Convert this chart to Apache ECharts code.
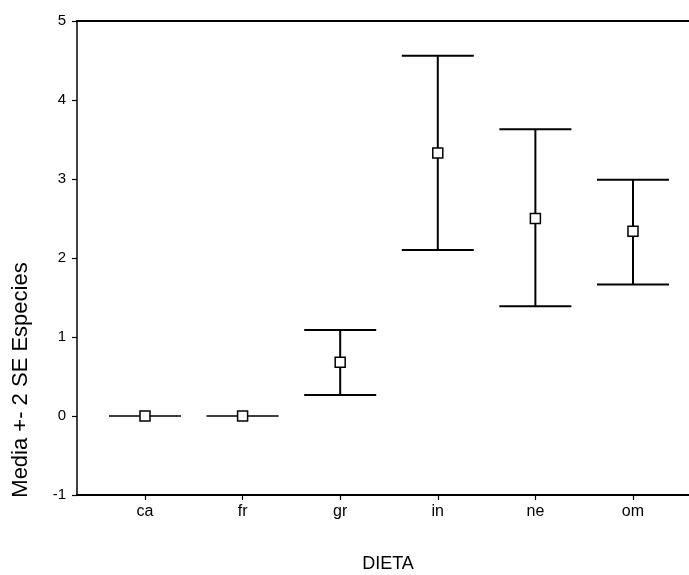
<!DOCTYPE html>
<html>
<head>
<meta charset="utf-8">
<script src="https://cdn.jsdelivr.net/npm/echarts@6/dist/echarts.min.js"></script>
<style>html,body{margin:0;padding:0;background:#fff;}#c{width:689px;height:575px;}</style>
</head>
<body>
<div id="c"></div>
<script>
var categories = ['ca', 'fr', 'gr', 'in', 'ne', 'om'];
var means = [0, 0, 0.68, 3.33, 2.5, 2.34];
var lower = [0, 0, 0.265, 2.10, 1.39, 1.665];
var upper = [0, 0, 1.09, 4.56, 3.63, 2.99];
var yTicks = [-1, 0, 1, 2, 3, 4, 5];

var positions = categories.map(function (c, i) { return i + 1; });
var barData = categories.map(function (c, i) { return [i + 1, lower[i], upper[i]]; });
var meanData = categories.map(function (c, i) { return [i + 1, means[i]]; });

var font = 'Liberation Sans, Arial, sans-serif';
var chart = echarts.init(document.getElementById('c'), null, {renderer: 'canvas'});
chart.setOption({
  animation: false,
  backgroundColor: '#fff',
  grid: {left: 77, right: 0, top: 21, bottom: 80, containLabel: false},
  xAxis: [{
    type: 'value', min: 0.3033, max: 6.574, position: 'bottom',
    splitLine: {show: false},
    axisLine: {show: true, onZero: false, lineStyle: {color: '#000', width: 2}},
    axisTick: {show: true, customValues: positions, length: 5, inside: false, lineStyle: {color: '#000', width: 1.2}},
    axisLabel: {show: true, customValues: positions, margin: 9, color: '#000', fontFamily: font, fontSize: 16,
      formatter: function (v) { return categories[Math.round(v) - 1] || ''; }}
  }, {
    type: 'value', min: 0.3033, max: 6.574, position: 'top',
    splitLine: {show: false},
    axisLine: {show: true, onZero: false, lineStyle: {color: '#000', width: 2}},
    axisTick: {show: false}, axisLabel: {show: false}
  }],
  yAxis: {
    type: 'value', min: -1, max: 5, interval: 1,
    splitLine: {show: false},
    axisLine: {show: true, onZero: false, lineStyle: {color: '#000', width: 1.5}},
    axisTick: {show: true, length: 5, lineStyle: {color: '#000', width: 1.2}},
    axisLabel: {color: '#000', fontFamily: font, fontSize: 15, margin: 11,
      customValues: yTicks}
  },
  graphic: [{
    type: 'text', x: 21, y: 380, rotation: Math.PI / 2,
    style: {text: 'Media +- 2 SE Especies', fontFamily: font, fontSize: 22, fill: '#000', align: 'center', verticalAlign: 'middle'}
  }, {
    type: 'text', x: 388, y: 564,
    style: {text: 'DIETA', fontFamily: font, fontSize: 18, fill: '#000', align: 'center', verticalAlign: 'middle'}
  }],
  series: [{
    type: 'custom',
    data: barData,
    renderItem: function (params, api) {
      var x = api.value(0);
      var lo = api.coord([x, api.value(1)]);
      var hi = api.coord([x, api.value(2)]);
      var half = 36;
      var st = {stroke: '#000', lineWidth: (api.value(2) - api.value(1)) > 0 ? 2 : 1.2};
      return {type: 'group', children: [
        {type: 'line', shape: {x1: lo[0], y1: lo[1], x2: hi[0], y2: hi[1]}, style: st},
        {type: 'line', shape: {x1: hi[0] - half, y1: hi[1], x2: hi[0] + half, y2: hi[1]}, style: st},
        {type: 'line', shape: {x1: lo[0] - half, y1: lo[1], x2: lo[0] + half, y2: lo[1]}, style: st}
      ]};
    },
    z: 2
  }, {
    type: 'scatter',
    data: meanData,
    symbol: 'rect',
    symbolSize: 10,
    itemStyle: {color: '#fff', borderColor: '#000', borderWidth: 1.5, opacity: 1},
    z: 5
  }]
});
</script>
</body>
</html>
